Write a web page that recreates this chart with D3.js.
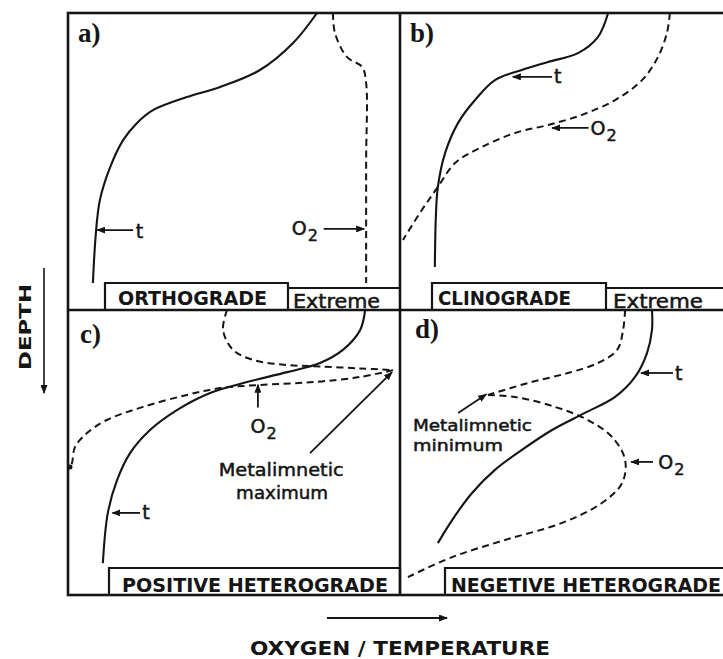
<!DOCTYPE html>
<html>
<head>
<meta charset="utf-8">
<script src="https://cdn.jsdelivr.net/npm/d3@7"></script>
<style>
  body { margin: 0; background: #fff; }
  svg { display: block; }
  text { font-family: "DejaVu Sans", sans-serif; fill: #151515; }
  .heavy { stroke: #151515; stroke-width: 0.5px; }
</style>
</head>
<body>
<script>
// panel letters and the stratification type under each profile
const panelLetters = ["a)", "b)", "c)", "d)"];
const typeLabels = ["ORTHOGRADE", "CLINOGRADE", "POSITIVE HETEROGRADE", "NEGETIVE HETEROGRADE"];
const extremeLabel = "Extreme";

// profiles as [oxygen/temperature, depth], both 0-100 across each panel
const tempA = [[75, 0], [67.8, 10.1], [57.8, 19.2], [45.8, 24.9], [35.8, 28.3], [25.6, 32.7],
  [20.8, 37], [16.6, 42.8], [12.7, 51.9], [9.6, 63], [8.4, 74.1], [7.5, 90.9]];
const oxyA = [[79.8, 0], [80.4, 6.7], [84, 14.8], [88.6, 18.2], [89.8, 23.6], [89.8, 50], [89.8, 90.9]];

const tempB = [[62.7, 0], [59.6, 8.1], [53.6, 13.5], [44.6, 16.5], [36.7, 19.2], [28.6, 22.6],
  [22.6, 29.3], [17.5, 37], [13.6, 47.1], [11.4, 58.6], [10.8, 68.7], [10.5, 85.5]];
const oxyB = [[81.3, 0], [80.4, 6.7], [77.7, 14.8], [72.9, 22.6], [64.8, 29.3], [54.8, 34.3],
  [44.6, 37.7], [34.6, 40.4], [24.7, 45.1], [16.6, 50.5], [11.4, 58.6], [6.6, 66.3], [0.9, 76.4]];

const tempC = [[89.5, 0], [88, 7], [82.8, 14], [75.9, 18.6], [66, 21.8], [53.9, 25.3], [42.8, 29.1],
  [32.8, 35.1], [24.7, 42.1], [18.7, 50.2], [14.8, 59.6], [12, 71.2], [10.5, 88.8]];
const oxyCUpper = [[47.9, 0], [46.7, 7], [49.7, 14], [55.7, 17.5], [66, 19.3], [75.9, 19.8],
  [88, 20.5], [97.9, 21.1]];
const oxyCLower = [[97.9, 21.1], [88, 23.5], [73.8, 25.3], [57.8, 26.3], [45.8, 27.4], [35.8, 29.8],
  [22.6, 34], [11.7, 38.6], [5.7, 43.2], [2.1, 48.1], [1.2, 53.7], [0.6, 55.1]];

const tempD = [[75.9, 0], [75.9, 7], [74.4, 15.1], [70.8, 23.5], [64.8, 30.5], [55.7, 36.1],
  [45.8, 42.1], [36.7, 49.1], [28.6, 56.1], [21.7, 64.2], [15.7, 73.7], [11.4, 81.8]];
const oxyDUpper = [[67.8, 0], [67.2, 7], [65.4, 14], [59.6, 18.6], [50.6, 22.1], [38.6, 25.6], [26.5, 29.8]];
const oxyDLower = [[26.5, 29.8], [34.6, 30.5], [46.7, 34], [56.6, 38.6], [63.9, 44.6], [67.8, 52.6],
  [66.9, 60.7], [60.8, 67.7], [48.8, 74.7], [31.6, 80.7], [15.7, 86.7], [2.4, 93.7]];

const width = 723, height = 659;
const frame = { left: 68, mid: 400, right: 732, top: 13, middle: 310, bottom: 595 };

const svg = d3.select("body").append("svg")
  .attr("width", width)
  .attr("height", height);

svg.append("defs").append("marker")
  .attr("id", "head")
  .attr("markerUnits", "userSpaceOnUse")
  .attr("markerWidth", 9).attr("markerHeight", 7)
  .attr("refX", 8).attr("refY", 3.5)
  .attr("orient", "auto")
  .append("path")
  .attr("d", "M0,0 L9,3.5 L0,7 Z")
  .attr("fill", "#151515");

// each panel: position, curves, label box and annotations (0-100 units)
const panels = [
  { x0: frame.left, y0: frame.top, y1: frame.middle, letter: panelLetters[0], letterAt: [10, 29],
    solid: [tempA], dashed: [oxyA],
    box: { from: 37, to: 220, top: 283, extreme: 288, text: typeLabels[0], textFrom: 50, textTo: 199, base: 305,
           extFrom: 225, extTo: 312 },
    notes: [
      { text: "t", at: [20.4, 75.8], arrow: [[19.6, 73.1], [8.8, 73.1]] },
      { text: "O", sub: "2", at: [67.4, 74.6], arrow: [[77, 72.7], [89.2, 72.7]] }
    ] },
  { x0: frame.mid, y0: frame.top, y1: frame.middle, letter: panelLetters[1], letterAt: [10, 29],
    solid: [tempB], dashed: [oxyB],
    box: { from: 32, to: 206, top: 283, extreme: 288, text: typeLabels[1], textFrom: 38, textTo: 171, base: 305,
           extFrom: 213, extTo: 303 },
    notes: [
      { text: "t", at: [46.4, 23.5], arrow: [[45.8, 21.5], [34, 21.5]] },
      { text: "O", sub: "2", at: [57.4, 41.2], arrow: [[56.8, 38.7], [45.8, 38.7]] }
    ] },
  { x0: frame.left, y0: frame.middle, y1: frame.bottom, letter: panelLetters[2], letterAt: [12, 33],
    solid: [tempC], dashed: [oxyCUpper, oxyCLower], dot: oxyCLower[oxyCLower.length - 1],
    box: { from: 41, to: 332, top: 568, text: typeLabels[2], textFrom: 54, textTo: 320, base: 592 },
    notes: [
      { text: "t", at: [22.4, 73.4], arrow: [[21.7, 71.2], [13.4, 71.2]] },
      { text: "O", sub: "2", at: [55, 43.2], arrow: [[57.2, 34.2], [57.2, 26.2]] },
      { text: "Metalimnetic", at: [64.2, 58.2], anchor: "middle", len: 125, arrow: [[72.9, 50.2], [97.6, 21.8]] },
      { text: "maximum", at: [64.5, 66.3], anchor: "middle", len: 92 }
    ] },
  { x0: frame.mid, y0: frame.middle, y1: frame.bottom, letter: panelLetters[3], letterAt: [15, 28],
    solid: [tempD], dashed: [oxyDUpper, oxyDLower],
    box: { from: 45, to: 332, top: 568, text: typeLabels[3], textFrom: 51, textTo: 321, base: 592 },
    notes: [
      { text: "t", at: [82.8, 24.4], arrow: [[82.2, 22.1], [72.6, 22.1]] },
      { text: "O", sub: "2", at: [77.8, 55.8], arrow: [[76.2, 53.3], [69.6, 53.3]] },
      { text: "Metalimnetic", at: [3.9, 42.6], len: 119, size: 16, arrow: [[17.5, 36.1], [26, 29.6]] },
      { text: "minimum", at: [3.9, 49.6], len: 90, size: 16 }
    ] }
];

const line = d3.line().curve(d3.curveCatmullRom.alpha(0.5));

panels.forEach(p => {
  const w = frame.mid - frame.left;
  const x = d3.scaleLinear().domain([0, 100]).range([p.x0, p.x0 + w]);
  const y = d3.scaleLinear().domain([0, 100]).range([p.y0, p.y1]);
  line.x(d => x(d[0])).y(d => y(d[1]));
  const g = svg.append("g");

  g.selectAll(".temp").data(p.solid).join("path")
    .attr("d", line)
    .attr("fill", "none").attr("stroke", "#151515").attr("stroke-width", 2.1);

  g.selectAll(".oxy").data(p.dashed).join("path")
    .attr("d", line)
    .attr("fill", "none").attr("stroke", "#151515").attr("stroke-width", 2)
    .attr("stroke-dasharray", "7,4.5");

  if (p.dot) {
    g.append("circle").attr("cx", x(p.dot[0])).attr("cy", y(p.dot[1])).attr("r", 2.5).attr("fill", "#151515");
  }

  g.append("text")
    .attr("x", p.x0 + p.letterAt[0]).attr("y", p.y0 + p.letterAt[1])
    .style("font-family", "'Liberation Serif', serif")
    .style("font-weight", "bold").style("font-size", "27px")
    .text(p.letter);

  // stratification label box
  const b = p.box;
  const boxPath = d3.path();
  boxPath.moveTo(p.x0 + b.from, p.y1);
  boxPath.lineTo(p.x0 + b.from, b.top);
  boxPath.lineTo(p.x0 + b.to, b.top);
  boxPath.lineTo(p.x0 + b.to, p.y1);
  if (b.extreme) {
    boxPath.moveTo(p.x0 + b.to, b.extreme);
    boxPath.lineTo(p.x0 + w, b.extreme);
  }
  g.append("path").attr("d", boxPath.toString())
    .attr("fill", "none").attr("stroke", "#151515").attr("stroke-width", 2.2);

  g.append("text")
    .attr("x", p.x0 + b.textFrom).attr("y", b.base)
    .attr("textLength", b.textTo - b.textFrom).attr("lengthAdjust", "spacingAndGlyphs")
    .style("font-size", "19px").style("font-weight", "bold")
    .text(b.text);

  if (b.extreme) {
    g.append("text").attr("class", "heavy")
      .attr("x", p.x0 + b.extFrom).attr("y", b.base + 3)
      .attr("textLength", b.extTo - b.extFrom).attr("lengthAdjust", "spacingAndGlyphs")
      .style("font-size", "19px")
      .text(extremeLabel);
  }

  p.notes.forEach(n => {
    if (n.arrow) {
      g.append("line")
        .attr("x1", x(n.arrow[0][0])).attr("y1", y(n.arrow[0][1]))
        .attr("x2", x(n.arrow[1][0])).attr("y2", y(n.arrow[1][1]))
        .attr("stroke", "#151515").attr("stroke-width", 1.8)
        .attr("marker-end", "url(#head)");
    }
    const t = g.append("text").attr("class", "heavy")
      .attr("x", x(n.at[0])).attr("y", y(n.at[1]))
      .attr("text-anchor", n.anchor || "start")
      .style("font-size", (n.size || (n.len ? 18 : 19)) + "px");
    if (n.len) t.attr("textLength", n.len).attr("lengthAdjust", "spacingAndGlyphs");
    t.append("tspan").text(n.text);
    if (n.sub) t.append("tspan").attr("dy", 6).attr("dx", 1).style("font-size", "16px").text(n.sub);
  });
});

// outer frame and dividers
const fr = svg.append("g").attr("stroke", "#151515").attr("stroke-width", 2.6).attr("fill", "none");
fr.append("rect")
  .attr("x", frame.left).attr("y", frame.top)
  .attr("width", frame.right - frame.left).attr("height", frame.bottom - frame.top);
fr.append("line").attr("x1", frame.mid).attr("x2", frame.mid).attr("y1", frame.top).attr("y2", frame.bottom);
fr.append("line").attr("x1", frame.left).attr("x2", frame.right).attr("y1", frame.middle).attr("y2", frame.middle);

// axis titles with arrows
svg.append("line")
  .attr("x1", 44).attr("y1", 268).attr("x2", 44).attr("y2", 393)
  .attr("stroke", "#151515").attr("stroke-width", 1.6).attr("marker-end", "url(#head)");
svg.append("text")
  .attr("transform", "translate(31,327) rotate(-90)")
  .attr("text-anchor", "middle")
  .attr("textLength", 86).attr("lengthAdjust", "spacingAndGlyphs")
  .style("font-size", "15px").style("font-weight", "bold")
  .text("DEPTH");

svg.append("line")
  .attr("x1", 327).attr("y1", 618).attr("x2", 447).attr("y2", 618)
  .attr("stroke", "#151515").attr("stroke-width", 2.2).attr("marker-end", "url(#head)");
svg.append("text")
  .attr("x", 400).attr("y", 655)
  .attr("text-anchor", "middle")
  .attr("textLength", 300).attr("lengthAdjust", "spacingAndGlyphs")
  .style("font-size", "19px").style("font-weight", "bold")
  .text("OXYGEN / TEMPERATURE");
</script>
</body>
</html>
